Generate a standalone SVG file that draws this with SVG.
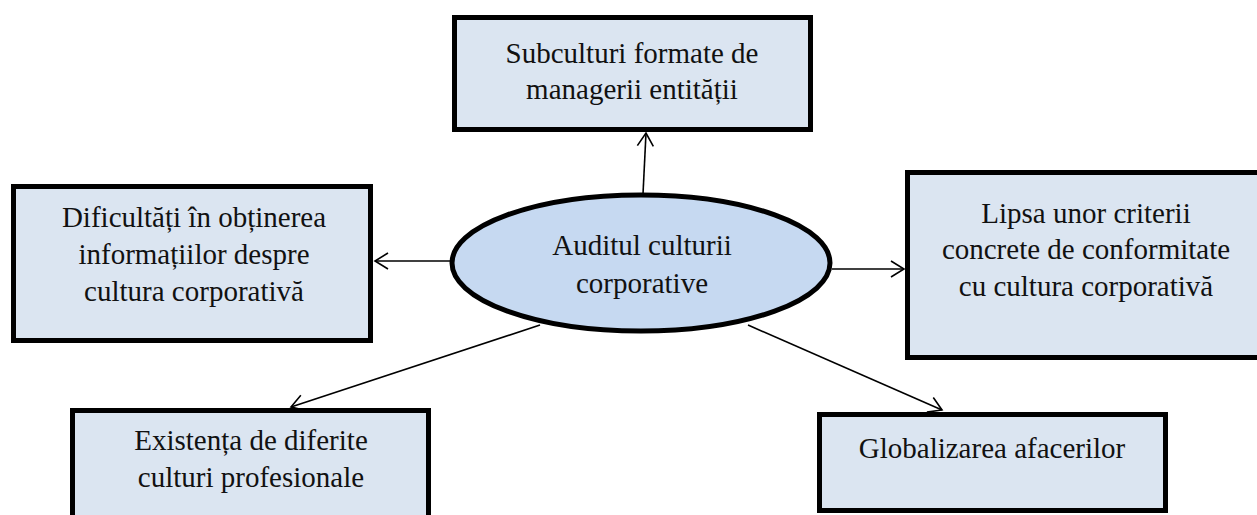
<svg xmlns="http://www.w3.org/2000/svg" width="1257" height="515" viewBox="0 0 1257 515">
  <style>
    .box { fill: #dbe5f1; stroke: #000; stroke-width: 5; }
    .hub { fill: #c6d9f1; stroke: #000; stroke-width: 5; }
    .link { stroke: #000; stroke-width: 1.6; fill: none; marker-end: url(#open); }
  </style>
  <defs>
    <!-- open V arrowhead shared by all connectors -->
    <marker id="open" markerUnits="userSpaceOnUse" markerWidth="18" markerHeight="20" refX="14" refY="9" orient="auto">
      <path d="M1,1 L14,9 L1,17" fill="none" stroke="#000" stroke-width="1.6"/>
    </marker>
  </defs>
  <rect width="1257" height="515" fill="#fff"/>

  <g id="connectors">
    <line class="link" x1="643" y1="194" x2="646" y2="133"/>
    <line class="link" x1="450" y1="261" x2="375" y2="261"/>
    <line class="link" x1="832" y1="269" x2="904" y2="269"/>
    <line class="link" x1="540" y1="325" x2="291" y2="407"/>
    <line class="link" x1="748" y1="325" x2="942" y2="410"/>
  </g>

  <g font-family="'Liberation Serif', Tinos, 'Times New Roman', 'DejaVu Serif', serif" font-size="29" fill="#111" text-anchor="middle">
    <g id="node-subculturi">
      <rect class="box" x="454.5" y="17.5" width="356" height="112"/>
      <text x="632" y="63">Subculturi formate de</text>
      <text x="632" y="99">managerii entității</text>
    </g>

    <g id="node-dificultati">
      <rect class="box" x="13.5" y="186.5" width="357" height="154"/>
      <text x="194" y="227">Dificultăți în obținerea</text>
      <text x="194" y="264">informațiilor despre</text>
      <text x="194" y="301">cultura corporativă</text>
    </g>

    <g id="node-auditul">
      <ellipse class="hub" cx="641" cy="263" rx="189" ry="68"/>
      <text x="642" y="255">Auditul culturii</text>
      <text x="642" y="293">corporative</text>
    </g>

    <g id="node-lipsa">
      <rect class="box" x="907.5" y="172.5" width="355" height="185"/>
      <text x="1086" y="223">Lipsa unor criterii</text>
      <text x="1086" y="259">concrete de conformitate</text>
      <text x="1086" y="296">cu cultura corporativă</text>
    </g>

    <g id="node-existenta">
      <rect class="box" x="72.5" y="410.5" width="356" height="120"/>
      <text x="251" y="450">Existența de diferite</text>
      <text x="251" y="487">culturi profesionale</text>
    </g>

    <g id="node-globalizarea">
      <rect class="box" x="819.5" y="414.5" width="346" height="96"/>
      <text x="992" y="458">Globalizarea afacerilor</text>
    </g>
  </g>
</svg>
